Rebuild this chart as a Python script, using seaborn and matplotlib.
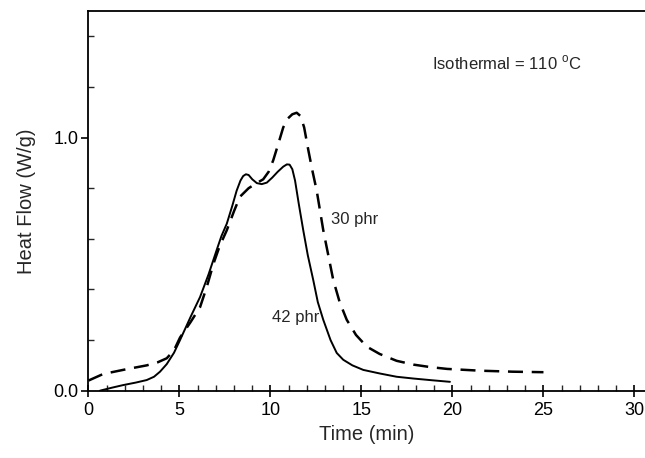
import matplotlib
matplotlib.use("Agg")
import matplotlib.pyplot as plt
import seaborn as sns
import pandas as pd
from matplotlib.ticker import FixedLocator, MultipleLocator

# 42 phr (solid)
t_42 = [0.63, 1.3, 1.9, 2.6, 3.2, 3.6, 3.93, 4.3, 4.7, 5.03, 5.6, 6.13, 6.6, 7.04, 7.3, 7.6,
        7.9, 8.14, 8.35, 8.5, 8.65, 8.8, 9.0, 9.25, 9.52, 9.8, 10.1, 10.4, 10.7, 10.9, 11.05,
        11.2, 11.35, 11.55, 11.8, 12.05, 12.35, 12.6, 12.9, 13.3, 13.64, 14.0, 14.5, 15.1,
        16.0, 16.93, 17.85, 18.9, 19.86]
hf_42 = [0.0, 0.012, 0.022, 0.032, 0.042, 0.055, 0.075, 0.105, 0.15, 0.2, 0.29, 0.37, 0.46,
         0.555, 0.61, 0.66, 0.73, 0.79, 0.83, 0.848, 0.855, 0.852, 0.835, 0.82, 0.816, 0.822,
         0.842, 0.865, 0.885, 0.894, 0.893, 0.875, 0.83, 0.74, 0.634, 0.535, 0.437, 0.35,
         0.28, 0.2, 0.149, 0.122, 0.1, 0.082, 0.068, 0.055, 0.048, 0.041, 0.035]

# 30 phr (dashed)
t_30 = [0.0, 0.81, 2.1, 3.2, 3.8, 4.3, 4.7, 5.03, 5.6, 6.13, 6.5, 6.86, 7.2, 7.6, 8.0, 8.32,
        8.8, 9.24, 9.6, 9.9, 10.15, 10.45, 10.7, 10.95, 11.2, 11.44, 11.65, 11.85, 12.08,
        12.3, 12.54, 12.9, 13.45, 13.8, 14.19, 14.7, 15.29, 16.0, 16.93, 17.85, 18.8, 19.7,
        21.5, 23.3, 25.0]
hf_30 = [0.04, 0.066, 0.085, 0.10, 0.112, 0.128, 0.16, 0.21, 0.27, 0.33, 0.41, 0.50, 0.57,
         0.634, 0.71, 0.766, 0.80, 0.82, 0.835, 0.865, 0.91, 0.98, 1.04, 1.075, 1.092, 1.098,
         1.085, 1.04, 0.95, 0.87, 0.79, 0.634, 0.437, 0.35, 0.28, 0.22, 0.174, 0.145, 0.118,
         0.103, 0.093, 0.086, 0.079, 0.075, 0.073]

df_42 = pd.DataFrame({"Time": t_42, "Heat": hf_42})
df_30 = pd.DataFrame({"Time": t_30, "Heat": hf_30})

sns.set_style("ticks")
plt.rcParams["font.family"] = ["Liberation Sans", "DejaVu Sans"]

fig = plt.figure(figsize=(6.45, 4.58), dpi=100)
ax = fig.add_axes([0.1372, 0.147, 0.8634, 0.829])

sns.lineplot(data=df_42, x="Time", y="Heat", ax=ax, color="black", lw=1.4, sort=False,
             estimator=None)
sns.lineplot(data=df_30, x="Time", y="Heat", ax=ax, color="black", lw=1.8, sort=False,
             estimator=None, dashes=False, linestyle=(0, (6, 3.5)))

ax.set_xlim(0, 30.6)
ax.set_ylim(0, 1.5)

ax.xaxis.set_major_locator(MultipleLocator(5))
ax.xaxis.set_minor_locator(MultipleLocator(1))
ax.yaxis.set_major_locator(FixedLocator([0.0, 1.0]))
ax.yaxis.set_minor_locator(FixedLocator([0.2, 0.4, 0.6, 0.8, 1.2, 1.4]))
ax.set_yticklabels(["0.0", "1.0"])

ax.tick_params(axis="x", which="major", direction="inout", length=9, width=1.2,
               labelsize=13, pad=4)
ax.tick_params(axis="x", which="minor", direction="in", length=4, width=1.0)
ax.tick_params(axis="y", which="major", direction="out", length=5, width=1.2,
               labelsize=13, pad=2)
ax.tick_params(axis="y", which="minor", direction="in", length=4, width=1.0)
ax.tick_params(colors="black")

for s in ["left", "bottom", "top"]:
    ax.spines[s].set_visible(True)
    ax.spines[s].set_linewidth(1.3)
    ax.spines[s].set_color("black")
ax.spines["right"].set_visible(False)

ax.set_xlabel("Time (min)", fontsize=14.5, labelpad=4)
ax.set_ylabel("Heat Flow (W/g)", fontsize=14.5, labelpad=13)

ax.text(18.9, 1.293, r"Isothermal = 110 $^{\mathregular{o}}$C", fontsize=12,
        va="center", ha="left")
ax.text(13.3, 0.677, "30 phr", fontsize=12, va="center", ha="left")
ax.text(10.07, 0.289, "42 phr", fontsize=12, va="center", ha="left")

fig.savefig("out.png", dpi=100)
